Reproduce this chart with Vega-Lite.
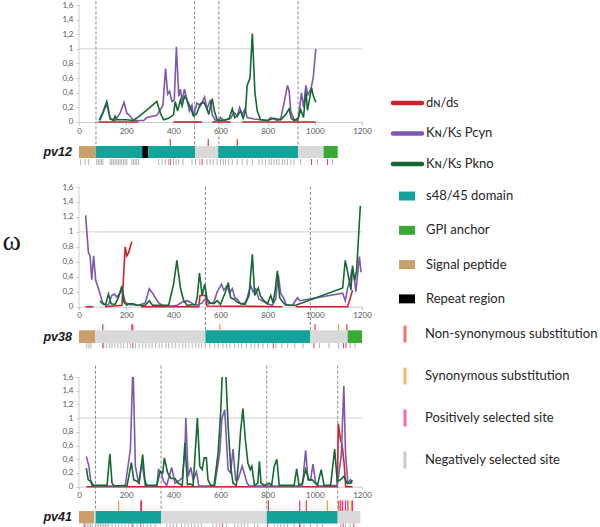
{
"$schema": "https://vega.github.io/schema/vega-lite/v6.json",
"background": "white",
"padding": {"left": 2, "top": 0, "right": 0, "bottom": 0},
"spacing": 18,
"config": {
  "view": {"stroke": null, "fill": "white"},
  "font": "Lato",
  "axis": {"labelFontSize": 8, "labelColor": "#595959", "tickColor": "#c8c8c8", "domainColor": "#c8c8c8", "tickSize": 3, "labelPadding": 2, "grid": false, "labelOverlap": false},
  "axisY": {"labelPadding": 3}
},
"datasets": {
  "lines": [
    {"gene":"pv12","cat":"dNdS","seg":1,"pos":82,"w":0},{"gene":"pv12","cat":"dNdS","seg":1,"pos":252,"w":0},
    {"gene":"pv12","cat":"dNdS","seg":2,"pos":401,"w":0},{"gene":"pv12","cat":"dNdS","seg":2,"pos":522,"w":0},
    {"gene":"pv12","cat":"dNdS","seg":3,"pos":565,"w":0},{"gene":"pv12","cat":"dNdS","seg":3,"pos":643,"w":0},
    {"gene":"pv12","cat":"dNdS","seg":4,"pos":692,"w":0},{"gene":"pv12","cat":"dNdS","seg":4,"pos":1004,"w":0},
    {"gene":"pv12","cat":"Pcyn","seg":1,"pos":89,"w":0.02},{"gene":"pv12","cat":"Pcyn","seg":1,"pos":111,"w":0.2},{"gene":"pv12","cat":"Pcyn","seg":1,"pos":120,"w":0.22},{"gene":"pv12","cat":"Pcyn","seg":1,"pos":132,"w":0.05},{"gene":"pv12","cat":"Pcyn","seg":1,"pos":153,"w":0.02},{"gene":"pv12","cat":"Pcyn","seg":1,"pos":174,"w":0.12},{"gene":"pv12","cat":"Pcyn","seg":1,"pos":191,"w":0.27},{"gene":"pv12","cat":"Pcyn","seg":1,"pos":203,"w":0.12},{"gene":"pv12","cat":"Pcyn","seg":1,"pos":217,"w":0.08},{"gene":"pv12","cat":"Pcyn","seg":1,"pos":231,"w":0.02},{"gene":"pv12","cat":"Pcyn","seg":1,"pos":274,"w":0.02},{"gene":"pv12","cat":"Pcyn","seg":1,"pos":288,"w":0.06},{"gene":"pv12","cat":"Pcyn","seg":1,"pos":330,"w":0.09},{"gene":"pv12","cat":"Pcyn","seg":1,"pos":345,"w":0.17},{"gene":"pv12","cat":"Pcyn","seg":1,"pos":356,"w":0.23},{"gene":"pv12","cat":"Pcyn","seg":1,"pos":367,"w":0.73},{"gene":"pv12","cat":"Pcyn","seg":1,"pos":376,"w":0.38},{"gene":"pv12","cat":"Pcyn","seg":1,"pos":384,"w":0.42},{"gene":"pv12","cat":"Pcyn","seg":1,"pos":394,"w":0.28},{"gene":"pv12","cat":"Pcyn","seg":1,"pos":404,"w":0.3},{"gene":"pv12","cat":"Pcyn","seg":1,"pos":413,"w":1.03},{"gene":"pv12","cat":"Pcyn","seg":1,"pos":423,"w":0.35},{"gene":"pv12","cat":"Pcyn","seg":1,"pos":430,"w":0.45},{"gene":"pv12","cat":"Pcyn","seg":1,"pos":437,"w":0.28},{"gene":"pv12","cat":"Pcyn","seg":1,"pos":447,"w":0.45},{"gene":"pv12","cat":"Pcyn","seg":1,"pos":458,"w":0.3},{"gene":"pv12","cat":"Pcyn","seg":1,"pos":468,"w":0.15},{"gene":"pv12","cat":"Pcyn","seg":1,"pos":479,"w":0.23},{"gene":"pv12","cat":"Pcyn","seg":1,"pos":486,"w":0.08},{"gene":"pv12","cat":"Pcyn","seg":1,"pos":500,"w":0.26},{"gene":"pv12","cat":"Pcyn","seg":1,"pos":515,"w":0.22},{"gene":"pv12","cat":"Pcyn","seg":1,"pos":532,"w":0.34},{"gene":"pv12","cat":"Pcyn","seg":1,"pos":543,"w":0.18},{"gene":"pv12","cat":"Pcyn","seg":1,"pos":557,"w":0.3},{"gene":"pv12","cat":"Pcyn","seg":1,"pos":565,"w":0.1},{"gene":"pv12","cat":"Pcyn","seg":1,"pos":579,"w":0.02},{"gene":"pv12","cat":"Pcyn","seg":1,"pos":593,"w":0.02},{"gene":"pv12","cat":"Pcyn","seg":1,"pos":600,"w":0.06},{"gene":"pv12","cat":"Pcyn","seg":1,"pos":614,"w":0.02},{"gene":"pv12","cat":"Pcyn","seg":1,"pos":643,"w":0.05},{"gene":"pv12","cat":"Pcyn","seg":1,"pos":657,"w":0.13},{"gene":"pv12","cat":"Pcyn","seg":1,"pos":671,"w":0.08},{"gene":"pv12","cat":"Pcyn","seg":1,"pos":681,"w":0.2},{"gene":"pv12","cat":"Pcyn","seg":1,"pos":692,"w":0.1},{"gene":"pv12","cat":"Pcyn","seg":1,"pos":704,"w":0.18},{"gene":"pv12","cat":"Pcyn","seg":1,"pos":713,"w":0.06},{"gene":"pv12","cat":"Pcyn","seg":1,"pos":728,"w":0.05},{"gene":"pv12","cat":"Pcyn","seg":1,"pos":742,"w":0.04},{"gene":"pv12","cat":"Pcyn","seg":1,"pos":770,"w":0.03},{"gene":"pv12","cat":"Pcyn","seg":1,"pos":799,"w":0.02},{"gene":"pv12","cat":"Pcyn","seg":1,"pos":813,"w":0.06},{"gene":"pv12","cat":"Pcyn","seg":1,"pos":827,"w":0.04},{"gene":"pv12","cat":"Pcyn","seg":1,"pos":841,"w":0.02},{"gene":"pv12","cat":"Pcyn","seg":1,"pos":855,"w":0.04},{"gene":"pv12","cat":"Pcyn","seg":1,"pos":869,"w":0.25},{"gene":"pv12","cat":"Pcyn","seg":1,"pos":884,"w":0.5},{"gene":"pv12","cat":"Pcyn","seg":1,"pos":891,"w":0.42},{"gene":"pv12","cat":"Pcyn","seg":1,"pos":898,"w":0.15},{"gene":"pv12","cat":"Pcyn","seg":1,"pos":912,"w":0.03},{"gene":"pv12","cat":"Pcyn","seg":1,"pos":929,"w":0.02},{"gene":"pv12","cat":"Pcyn","seg":1,"pos":943,"w":0.4},{"gene":"pv12","cat":"Pcyn","seg":1,"pos":952,"w":0.2},{"gene":"pv12","cat":"Pcyn","seg":1,"pos":962,"w":0.5},{"gene":"pv12","cat":"Pcyn","seg":1,"pos":971,"w":0.37},{"gene":"pv12","cat":"Pcyn","seg":1,"pos":983,"w":0.45},{"gene":"pv12","cat":"Pcyn","seg":1,"pos":993,"w":0.6},{"gene":"pv12","cat":"Pcyn","seg":1,"pos":1004,"w":1.0},
    {"gene":"pv12","cat":"Pkno","seg":1,"pos":86,"w":0.03},{"gene":"pv12","cat":"Pkno","seg":1,"pos":100,"w":0.12},{"gene":"pv12","cat":"Pkno","seg":1,"pos":118,"w":0.28},{"gene":"pv12","cat":"Pkno","seg":1,"pos":132,"w":0.04},{"gene":"pv12","cat":"Pkno","seg":1,"pos":146,"w":0.02},{"gene":"pv12","cat":"Pkno","seg":1,"pos":153,"w":0.08},{"gene":"pv12","cat":"Pkno","seg":1,"pos":160,"w":0.03},{"gene":"pv12","cat":"Pkno","seg":1,"pos":174,"w":0.03},{"gene":"pv12","cat":"Pkno","seg":1,"pos":200,"w":0.03},{"gene":"pv12","cat":"Pkno","seg":1,"pos":230,"w":0.02},{"gene":"pv12","cat":"Pkno","seg":1,"pos":252,"w":0.07},{"gene":"pv12","cat":"Pkno","seg":1,"pos":290,"w":0.17},{"gene":"pv12","cat":"Pkno","seg":1,"pos":330,"w":0.28},{"gene":"pv12","cat":"Pkno","seg":1,"pos":345,"w":0.12},{"gene":"pv12","cat":"Pkno","seg":1,"pos":359,"w":0.03},{"gene":"pv12","cat":"Pkno","seg":1,"pos":380,"w":0.05},{"gene":"pv12","cat":"Pkno","seg":1,"pos":401,"w":0.1},{"gene":"pv12","cat":"Pkno","seg":1,"pos":408,"w":0.28},{"gene":"pv12","cat":"Pkno","seg":1,"pos":418,"w":0.15},{"gene":"pv12","cat":"Pkno","seg":1,"pos":430,"w":0.3},{"gene":"pv12","cat":"Pkno","seg":1,"pos":437,"w":0.22},{"gene":"pv12","cat":"Pkno","seg":1,"pos":447,"w":0.35},{"gene":"pv12","cat":"Pkno","seg":1,"pos":458,"w":0.3},{"gene":"pv12","cat":"Pkno","seg":1,"pos":472,"w":0.2},{"gene":"pv12","cat":"Pkno","seg":1,"pos":486,"w":0.08},{"gene":"pv12","cat":"Pkno","seg":1,"pos":500,"w":0.12},{"gene":"pv12","cat":"Pkno","seg":1,"pos":515,"w":0.25},{"gene":"pv12","cat":"Pkno","seg":1,"pos":529,"w":0.27},{"gene":"pv12","cat":"Pkno","seg":1,"pos":543,"w":0.18},{"gene":"pv12","cat":"Pkno","seg":1,"pos":550,"w":0.1},{"gene":"pv12","cat":"Pkno","seg":1,"pos":565,"w":0.32},{"gene":"pv12","cat":"Pkno","seg":1,"pos":574,"w":0.15},{"gene":"pv12","cat":"Pkno","seg":1,"pos":586,"w":0.03},{"gene":"pv12","cat":"Pkno","seg":1,"pos":600,"w":0.02},{"gene":"pv12","cat":"Pkno","seg":1,"pos":620,"w":0.03},{"gene":"pv12","cat":"Pkno","seg":1,"pos":636,"w":0.04},{"gene":"pv12","cat":"Pkno","seg":1,"pos":650,"w":0.18},{"gene":"pv12","cat":"Pkno","seg":1,"pos":660,"w":0.06},{"gene":"pv12","cat":"Pkno","seg":1,"pos":671,"w":0.08},{"gene":"pv12","cat":"Pkno","seg":1,"pos":685,"w":0.15},{"gene":"pv12","cat":"Pkno","seg":1,"pos":696,"w":0.05},{"gene":"pv12","cat":"Pkno","seg":1,"pos":706,"w":0.15},{"gene":"pv12","cat":"Pkno","seg":1,"pos":713,"w":0.5},{"gene":"pv12","cat":"Pkno","seg":1,"pos":725,"w":0.6},{"gene":"pv12","cat":"Pkno","seg":1,"pos":735,"w":1.21},{"gene":"pv12","cat":"Pkno","seg":1,"pos":746,"w":0.4},{"gene":"pv12","cat":"Pkno","seg":1,"pos":756,"w":0.15},{"gene":"pv12","cat":"Pkno","seg":1,"pos":770,"w":0.03},{"gene":"pv12","cat":"Pkno","seg":1,"pos":799,"w":0.02},{"gene":"pv12","cat":"Pkno","seg":1,"pos":827,"w":0.05},{"gene":"pv12","cat":"Pkno","seg":1,"pos":855,"w":0.03},{"gene":"pv12","cat":"Pkno","seg":1,"pos":876,"w":0.1},{"gene":"pv12","cat":"Pkno","seg":1,"pos":891,"w":0.18},{"gene":"pv12","cat":"Pkno","seg":1,"pos":900,"w":0.05},{"gene":"pv12","cat":"Pkno","seg":1,"pos":912,"w":0.02},{"gene":"pv12","cat":"Pkno","seg":1,"pos":929,"w":0.05},{"gene":"pv12","cat":"Pkno","seg":1,"pos":940,"w":0.17},{"gene":"pv12","cat":"Pkno","seg":1,"pos":952,"w":0.06},{"gene":"pv12","cat":"Pkno","seg":1,"pos":962,"w":0.42},{"gene":"pv12","cat":"Pkno","seg":1,"pos":969,"w":0.16},{"gene":"pv12","cat":"Pkno","seg":1,"pos":986,"w":0.47},{"gene":"pv12","cat":"Pkno","seg":1,"pos":994,"w":0.35},{"gene":"pv12","cat":"Pkno","seg":1,"pos":1004,"w":0.27},

    {"gene":"pv38","cat":"dNdS","seg":1,"pos":28,"w":0},{"gene":"pv38","cat":"dNdS","seg":1,"pos":61,"w":0},
    {"gene":"pv38","cat":"dNdS","seg":2,"pos":110,"w":0},{"gene":"pv38","cat":"dNdS","seg":2,"pos":182,"w":0.02},{"gene":"pv38","cat":"dNdS","seg":2,"pos":196,"w":0.8},{"gene":"pv38","cat":"dNdS","seg":2,"pos":203,"w":0.68},{"gene":"pv38","cat":"dNdS","seg":2,"pos":210,"w":0.72},{"gene":"pv38","cat":"dNdS","seg":2,"pos":224,"w":0.87},
    {"gene":"pv38","cat":"dNdS","seg":3,"pos":262,"w":0},{"gene":"pv38","cat":"dNdS","seg":3,"pos":508,"w":0},{"gene":"pv38","cat":"dNdS","seg":3,"pos":513,"w":0.15},{"gene":"pv38","cat":"dNdS","seg":3,"pos":536,"w":0.15},{"gene":"pv38","cat":"dNdS","seg":3,"pos":543,"w":0.01},{"gene":"pv38","cat":"dNdS","seg":3,"pos":862,"w":0},
    {"gene":"pv38","cat":"dNdS","seg":4,"pos":919,"w":0},{"gene":"pv38","cat":"dNdS","seg":4,"pos":1139,"w":0},{"gene":"pv38","cat":"dNdS","seg":4,"pos":1160,"w":0.22},
    {"gene":"pv38","cat":"Pcyn","seg":1,"pos":28,"w":1.22},{"gene":"pv38","cat":"Pcyn","seg":1,"pos":40,"w":0.72},{"gene":"pv38","cat":"Pcyn","seg":1,"pos":47,"w":0.68},{"gene":"pv38","cat":"Pcyn","seg":1,"pos":54,"w":0.36},{"gene":"pv38","cat":"Pcyn","seg":1,"pos":62,"w":0.68},{"gene":"pv38","cat":"Pcyn","seg":1,"pos":71,"w":0.35},{"gene":"pv38","cat":"Pcyn","seg":1,"pos":82,"w":0.25},{"gene":"pv38","cat":"Pcyn","seg":1,"pos":96,"w":0.1},{"gene":"pv38","cat":"Pcyn","seg":1,"pos":104,"w":0.03},{"gene":"pv38","cat":"Pcyn","seg":1,"pos":118,"w":0.02},{"gene":"pv38","cat":"Pcyn","seg":1,"pos":125,"w":0.03},{"gene":"pv38","cat":"Pcyn","seg":1,"pos":139,"w":0.15},{"gene":"pv38","cat":"Pcyn","seg":1,"pos":150,"w":0.17},{"gene":"pv38","cat":"Pcyn","seg":1,"pos":160,"w":0.13},{"gene":"pv38","cat":"Pcyn","seg":1,"pos":174,"w":0.18},{"gene":"pv38","cat":"Pcyn","seg":1,"pos":184,"w":0.22},{"gene":"pv38","cat":"Pcyn","seg":1,"pos":196,"w":0.06},{"gene":"pv38","cat":"Pcyn","seg":1,"pos":210,"w":0.03},{"gene":"pv38","cat":"Pcyn","seg":1,"pos":252,"w":0.02},{"gene":"pv38","cat":"Pcyn","seg":1,"pos":281,"w":0.05},{"gene":"pv38","cat":"Pcyn","seg":1,"pos":298,"w":0.24},{"gene":"pv38","cat":"Pcyn","seg":1,"pos":312,"w":0.18},{"gene":"pv38","cat":"Pcyn","seg":1,"pos":323,"w":0.12},{"gene":"pv38","cat":"Pcyn","seg":1,"pos":338,"w":0.05},{"gene":"pv38","cat":"Pcyn","seg":1,"pos":352,"w":0.02},{"gene":"pv38","cat":"Pcyn","seg":1,"pos":394,"w":0.01},{"gene":"pv38","cat":"Pcyn","seg":1,"pos":416,"w":0.02},{"gene":"pv38","cat":"Pcyn","seg":1,"pos":437,"w":0.06},{"gene":"pv38","cat":"Pcyn","seg":1,"pos":458,"w":0.08},{"gene":"pv38","cat":"Pcyn","seg":1,"pos":472,"w":0.06},{"gene":"pv38","cat":"Pcyn","seg":1,"pos":487,"w":0.03},{"gene":"pv38","cat":"Pcyn","seg":1,"pos":501,"w":0.02},{"gene":"pv38","cat":"Pcyn","seg":1,"pos":522,"w":0.05},{"gene":"pv38","cat":"Pcyn","seg":1,"pos":539,"w":0.12},{"gene":"pv38","cat":"Pcyn","seg":1,"pos":550,"w":0.04},{"gene":"pv38","cat":"Pcyn","seg":1,"pos":572,"w":0.06},{"gene":"pv38","cat":"Pcyn","seg":1,"pos":586,"w":0.2},{"gene":"pv38","cat":"Pcyn","seg":1,"pos":604,"w":0.3},{"gene":"pv38","cat":"Pcyn","seg":1,"pos":614,"w":0.22},{"gene":"pv38","cat":"Pcyn","seg":1,"pos":628,"w":0.28},{"gene":"pv38","cat":"Pcyn","seg":1,"pos":638,"w":0.18},{"gene":"pv38","cat":"Pcyn","seg":1,"pos":650,"w":0.24},{"gene":"pv38","cat":"Pcyn","seg":1,"pos":661,"w":0.12},{"gene":"pv38","cat":"Pcyn","seg":1,"pos":671,"w":0.1},{"gene":"pv38","cat":"Pcyn","seg":1,"pos":685,"w":0.04},{"gene":"pv38","cat":"Pcyn","seg":1,"pos":704,"w":0.05},{"gene":"pv38","cat":"Pcyn","seg":1,"pos":713,"w":0.12},{"gene":"pv38","cat":"Pcyn","seg":1,"pos":728,"w":0.28},{"gene":"pv38","cat":"Pcyn","seg":1,"pos":738,"w":0.2},{"gene":"pv38","cat":"Pcyn","seg":1,"pos":749,"w":0.24},{"gene":"pv38","cat":"Pcyn","seg":1,"pos":763,"w":0.1},{"gene":"pv38","cat":"Pcyn","seg":1,"pos":777,"w":0.08},{"gene":"pv38","cat":"Pcyn","seg":1,"pos":799,"w":0.04},{"gene":"pv38","cat":"Pcyn","seg":1,"pos":820,"w":0.02},{"gene":"pv38","cat":"Pcyn","seg":1,"pos":834,"w":0.1},{"gene":"pv38","cat":"Pcyn","seg":1,"pos":845,"w":0.43},{"gene":"pv38","cat":"Pcyn","seg":1,"pos":855,"w":0.18},{"gene":"pv38","cat":"Pcyn","seg":1,"pos":870,"w":0.1},{"gene":"pv38","cat":"Pcyn","seg":1,"pos":879,"w":0.02},{"gene":"pv38","cat":"Pcyn","seg":1,"pos":905,"w":0.02},{"gene":"pv38","cat":"Pcyn","seg":1,"pos":926,"w":0.12},{"gene":"pv38","cat":"Pcyn","seg":1,"pos":936,"w":0.08},{"gene":"pv38","cat":"Pcyn","seg":1,"pos":1118,"w":0.18},{"gene":"pv38","cat":"Pcyn","seg":1,"pos":1129,"w":0.08},{"gene":"pv38","cat":"Pcyn","seg":1,"pos":1139,"w":0.25},{"gene":"pv38","cat":"Pcyn","seg":1,"pos":1149,"w":0.35},{"gene":"pv38","cat":"Pcyn","seg":1,"pos":1157,"w":0.5},{"gene":"pv38","cat":"Pcyn","seg":1,"pos":1167,"w":0.38},{"gene":"pv38","cat":"Pcyn","seg":1,"pos":1174,"w":0.2},{"gene":"pv38","cat":"Pcyn","seg":1,"pos":1182,"w":0.45},{"gene":"pv38","cat":"Pcyn","seg":1,"pos":1189,"w":0.67},{"gene":"pv38","cat":"Pcyn","seg":1,"pos":1196,"w":0.46},
    {"gene":"pv38","cat":"Pkno","seg":1,"pos":89,"w":0.08},{"gene":"pv38","cat":"Pkno","seg":1,"pos":100,"w":0.04},{"gene":"pv38","cat":"Pkno","seg":1,"pos":113,"w":0.03},{"gene":"pv38","cat":"Pkno","seg":1,"pos":125,"w":0.17},{"gene":"pv38","cat":"Pkno","seg":1,"pos":136,"w":0.04},{"gene":"pv38","cat":"Pkno","seg":1,"pos":153,"w":0.03},{"gene":"pv38","cat":"Pkno","seg":1,"pos":167,"w":0.12},{"gene":"pv38","cat":"Pkno","seg":1,"pos":182,"w":0.28},{"gene":"pv38","cat":"Pkno","seg":1,"pos":190,"w":0.06},{"gene":"pv38","cat":"Pkno","seg":1,"pos":203,"w":0.02},{"gene":"pv38","cat":"Pkno","seg":1,"pos":210,"w":0.04},{"gene":"pv38","cat":"Pkno","seg":1,"pos":231,"w":0.04},{"gene":"pv38","cat":"Pkno","seg":1,"pos":245,"w":0.02},{"gene":"pv38","cat":"Pkno","seg":1,"pos":281,"w":0.02},{"gene":"pv38","cat":"Pkno","seg":1,"pos":298,"w":0.08},{"gene":"pv38","cat":"Pkno","seg":1,"pos":312,"w":0.02},{"gene":"pv38","cat":"Pkno","seg":1,"pos":352,"w":0.02},{"gene":"pv38","cat":"Pkno","seg":1,"pos":380,"w":0.02},{"gene":"pv38","cat":"Pkno","seg":1,"pos":401,"w":0.3},{"gene":"pv38","cat":"Pkno","seg":1,"pos":415,"w":0.62},{"gene":"pv38","cat":"Pkno","seg":1,"pos":430,"w":0.25},{"gene":"pv38","cat":"Pkno","seg":1,"pos":444,"w":0.08},{"gene":"pv38","cat":"Pkno","seg":1,"pos":458,"w":0.02},{"gene":"pv38","cat":"Pkno","seg":1,"pos":494,"w":0.03},{"gene":"pv38","cat":"Pkno","seg":1,"pos":501,"w":0.12},{"gene":"pv38","cat":"Pkno","seg":1,"pos":511,"w":0.45},{"gene":"pv38","cat":"Pkno","seg":1,"pos":522,"w":0.15},{"gene":"pv38","cat":"Pkno","seg":1,"pos":533,"w":0.3},{"gene":"pv38","cat":"Pkno","seg":1,"pos":543,"w":0.1},{"gene":"pv38","cat":"Pkno","seg":1,"pos":557,"w":0.05},{"gene":"pv38","cat":"Pkno","seg":1,"pos":572,"w":0.04},{"gene":"pv38","cat":"Pkno","seg":1,"pos":586,"w":0.08},{"gene":"pv38","cat":"Pkno","seg":1,"pos":600,"w":0.03},{"gene":"pv38","cat":"Pkno","seg":1,"pos":621,"w":0.2},{"gene":"pv38","cat":"Pkno","seg":1,"pos":633,"w":0.32},{"gene":"pv38","cat":"Pkno","seg":1,"pos":643,"w":0.12},{"gene":"pv38","cat":"Pkno","seg":1,"pos":657,"w":0.1},{"gene":"pv38","cat":"Pkno","seg":1,"pos":671,"w":0.06},{"gene":"pv38","cat":"Pkno","seg":1,"pos":685,"w":0.04},{"gene":"pv38","cat":"Pkno","seg":1,"pos":704,"w":0.03},{"gene":"pv38","cat":"Pkno","seg":1,"pos":721,"w":0.15},{"gene":"pv38","cat":"Pkno","seg":1,"pos":735,"w":0.7},{"gene":"pv38","cat":"Pkno","seg":1,"pos":745,"w":0.15},{"gene":"pv38","cat":"Pkno","seg":1,"pos":760,"w":0.25},{"gene":"pv38","cat":"Pkno","seg":1,"pos":770,"w":0.14},{"gene":"pv38","cat":"Pkno","seg":1,"pos":784,"w":0.08},{"gene":"pv38","cat":"Pkno","seg":1,"pos":799,"w":0.04},{"gene":"pv38","cat":"Pkno","seg":1,"pos":813,"w":0.15},{"gene":"pv38","cat":"Pkno","seg":1,"pos":823,"w":0.05},{"gene":"pv38","cat":"Pkno","seg":1,"pos":831,"w":0.2},{"gene":"pv38","cat":"Pkno","seg":1,"pos":841,"w":0.48},{"gene":"pv38","cat":"Pkno","seg":1,"pos":851,"w":0.12},{"gene":"pv38","cat":"Pkno","seg":1,"pos":862,"w":0.07},{"gene":"pv38","cat":"Pkno","seg":1,"pos":874,"w":0.03},{"gene":"pv38","cat":"Pkno","seg":1,"pos":891,"w":0.02},{"gene":"pv38","cat":"Pkno","seg":1,"pos":919,"w":0.02},{"gene":"pv38","cat":"Pkno","seg":1,"pos":1118,"w":0.25},{"gene":"pv38","cat":"Pkno","seg":1,"pos":1129,"w":0.62},{"gene":"pv38","cat":"Pkno","seg":1,"pos":1143,"w":0.4},{"gene":"pv38","cat":"Pkno","seg":1,"pos":1153,"w":0.22},{"gene":"pv38","cat":"Pkno","seg":1,"pos":1160,"w":0.55},{"gene":"pv38","cat":"Pkno","seg":1,"pos":1169,"w":0.35},{"gene":"pv38","cat":"Pkno","seg":1,"pos":1177,"w":0.48},{"gene":"pv38","cat":"Pkno","seg":1,"pos":1193,"w":1.35},

    {"gene":"pv41","cat":"dNdS","seg":1,"pos":31,"w":0},{"gene":"pv41","cat":"dNdS","seg":1,"pos":1095,"w":0},{"gene":"pv41","cat":"dNdS","seg":1,"pos":1100,"w":0.92},{"gene":"pv41","cat":"dNdS","seg":1,"pos":1108,"w":0.7},{"gene":"pv41","cat":"dNdS","seg":1,"pos":1116,"w":0.6},{"gene":"pv41","cat":"dNdS","seg":1,"pos":1124,"w":0.35},{"gene":"pv41","cat":"dNdS","seg":1,"pos":1131,"w":0},{"gene":"pv41","cat":"dNdS","seg":1,"pos":1160,"w":0},
    {"gene":"pv41","cat":"Pcyn","seg":1,"pos":31,"w":0.44},{"gene":"pv41","cat":"Pcyn","seg":1,"pos":42,"w":0.3},{"gene":"pv41","cat":"Pcyn","seg":1,"pos":49,"w":0.1},{"gene":"pv41","cat":"Pcyn","seg":1,"pos":56,"w":0.05},{"gene":"pv41","cat":"Pcyn","seg":1,"pos":63,"w":0.01},{"gene":"pv41","cat":"Pcyn","seg":1,"pos":196,"w":0.01},{"gene":"pv41","cat":"Pcyn","seg":1,"pos":218,"w":0.55},{"gene":"pv41","cat":"Pcyn","seg":1,"pos":229,"w":1.8},{"gene":"pv41","cat":"Pcyn","seg":1,"pos":239,"w":0.3},{"gene":"pv41","cat":"Pcyn","seg":1,"pos":253,"w":0.05},{"gene":"pv41","cat":"Pcyn","seg":1,"pos":267,"w":0.35},{"gene":"pv41","cat":"Pcyn","seg":1,"pos":278,"w":0.1},{"gene":"pv41","cat":"Pcyn","seg":1,"pos":290,"w":0.01},{"gene":"pv41","cat":"Pcyn","seg":1,"pos":330,"w":0.01},{"gene":"pv41","cat":"Pcyn","seg":1,"pos":337,"w":0.25},{"gene":"pv41","cat":"Pcyn","seg":1,"pos":348,"w":0.22},{"gene":"pv41","cat":"Pcyn","seg":1,"pos":358,"w":0.08},{"gene":"pv41","cat":"Pcyn","seg":1,"pos":372,"w":0.02},{"gene":"pv41","cat":"Pcyn","seg":1,"pos":393,"w":0.28},{"gene":"pv41","cat":"Pcyn","seg":1,"pos":407,"w":0.05},{"gene":"pv41","cat":"Pcyn","seg":1,"pos":428,"w":0.1},{"gene":"pv41","cat":"Pcyn","seg":1,"pos":438,"w":0.13},{"gene":"pv41","cat":"Pcyn","seg":1,"pos":449,"w":0.5},{"gene":"pv41","cat":"Pcyn","seg":1,"pos":453,"w":1.0},{"gene":"pv41","cat":"Pcyn","seg":1,"pos":463,"w":0.15},{"gene":"pv41","cat":"Pcyn","seg":1,"pos":474,"w":0.28},{"gene":"pv41","cat":"Pcyn","seg":1,"pos":484,"w":0.1},{"gene":"pv41","cat":"Pcyn","seg":1,"pos":498,"w":0.22},{"gene":"pv41","cat":"Pcyn","seg":1,"pos":508,"w":0.01},{"gene":"pv41","cat":"Pcyn","seg":1,"pos":575,"w":0.01},{"gene":"pv41","cat":"Pcyn","seg":1,"pos":597,"w":0.5},{"gene":"pv41","cat":"Pcyn","seg":1,"pos":606,"w":1.0},{"gene":"pv41","cat":"Pcyn","seg":1,"pos":618,"w":1.12},{"gene":"pv41","cat":"Pcyn","seg":1,"pos":632,"w":0.25},{"gene":"pv41","cat":"Pcyn","seg":1,"pos":643,"w":0.2},{"gene":"pv41","cat":"Pcyn","seg":1,"pos":653,"w":0.55},{"gene":"pv41","cat":"Pcyn","seg":1,"pos":664,"w":0.1},{"gene":"pv41","cat":"Pcyn","seg":1,"pos":674,"w":0.1},{"gene":"pv41","cat":"Pcyn","seg":1,"pos":692,"w":0.3},{"gene":"pv41","cat":"Pcyn","seg":1,"pos":702,"w":0.18},{"gene":"pv41","cat":"Pcyn","seg":1,"pos":713,"w":0.05},{"gene":"pv41","cat":"Pcyn","seg":1,"pos":723,"w":0.01},{"gene":"pv41","cat":"Pcyn","seg":1,"pos":947,"w":0.01},{"gene":"pv41","cat":"Pcyn","seg":1,"pos":961,"w":0.53},{"gene":"pv41","cat":"Pcyn","seg":1,"pos":971,"w":0.1},{"gene":"pv41","cat":"Pcyn","seg":1,"pos":982,"w":0.1},{"gene":"pv41","cat":"Pcyn","seg":1,"pos":992,"w":0.33},{"gene":"pv41","cat":"Pcyn","seg":1,"pos":1004,"w":0.05},{"gene":"pv41","cat":"Pcyn","seg":1,"pos":1018,"w":0.01},{"gene":"pv41","cat":"Pcyn","seg":1,"pos":1095,"w":0.02},{"gene":"pv41","cat":"Pcyn","seg":1,"pos":1106,"w":0.3},{"gene":"pv41","cat":"Pcyn","seg":1,"pos":1112,"w":0.45},{"gene":"pv41","cat":"Pcyn","seg":1,"pos":1123,"w":1.47},{"gene":"pv41","cat":"Pcyn","seg":1,"pos":1130,"w":0.5},{"gene":"pv41","cat":"Pcyn","seg":1,"pos":1140,"w":0.05},{"gene":"pv41","cat":"Pcyn","seg":1,"pos":1151,"w":0.1},{"gene":"pv41","cat":"Pcyn","seg":1,"pos":1158,"w":0.05},
    {"gene":"pv41","cat":"Pkno","seg":1,"pos":31,"w":0.27},{"gene":"pv41","cat":"Pkno","seg":1,"pos":39,"w":0.1},{"gene":"pv41","cat":"Pkno","seg":1,"pos":49,"w":0.08},{"gene":"pv41","cat":"Pkno","seg":1,"pos":56,"w":0.02},{"gene":"pv41","cat":"Pkno","seg":1,"pos":119,"w":0.02},{"gene":"pv41","cat":"Pkno","seg":1,"pos":131,"w":0.48},{"gene":"pv41","cat":"Pkno","seg":1,"pos":140,"w":0.05},{"gene":"pv41","cat":"Pkno","seg":1,"pos":150,"w":0.01},{"gene":"pv41","cat":"Pkno","seg":1,"pos":204,"w":0.02},{"gene":"pv41","cat":"Pkno","seg":1,"pos":222,"w":0.35},{"gene":"pv41","cat":"Pkno","seg":1,"pos":232,"w":0.1},{"gene":"pv41","cat":"Pkno","seg":1,"pos":246,"w":0.08},{"gene":"pv41","cat":"Pkno","seg":1,"pos":255,"w":0.05},{"gene":"pv41","cat":"Pkno","seg":1,"pos":270,"w":0.47},{"gene":"pv41","cat":"Pkno","seg":1,"pos":281,"w":0.02},{"gene":"pv41","cat":"Pkno","seg":1,"pos":330,"w":0.02},{"gene":"pv41","cat":"Pkno","seg":1,"pos":344,"w":0.22},{"gene":"pv41","cat":"Pkno","seg":1,"pos":355,"w":0.2},{"gene":"pv41","cat":"Pkno","seg":1,"pos":362,"w":0.42},{"gene":"pv41","cat":"Pkno","seg":1,"pos":376,"w":0.2},{"gene":"pv41","cat":"Pkno","seg":1,"pos":390,"w":0.12},{"gene":"pv41","cat":"Pkno","seg":1,"pos":407,"w":0.12},{"gene":"pv41","cat":"Pkno","seg":1,"pos":421,"w":0.05},{"gene":"pv41","cat":"Pkno","seg":1,"pos":438,"w":0.02},{"gene":"pv41","cat":"Pkno","seg":1,"pos":449,"w":0.64},{"gene":"pv41","cat":"Pkno","seg":1,"pos":460,"w":0.03},{"gene":"pv41","cat":"Pkno","seg":1,"pos":470,"w":0.04},{"gene":"pv41","cat":"Pkno","seg":1,"pos":484,"w":0.02},{"gene":"pv41","cat":"Pkno","seg":1,"pos":502,"w":1.0},{"gene":"pv41","cat":"Pkno","seg":1,"pos":512,"w":0.3},{"gene":"pv41","cat":"Pkno","seg":1,"pos":522,"w":0.25},{"gene":"pv41","cat":"Pkno","seg":1,"pos":531,"w":0.42},{"gene":"pv41","cat":"Pkno","seg":1,"pos":540,"w":0.42},{"gene":"pv41","cat":"Pkno","seg":1,"pos":547,"w":0.1},{"gene":"pv41","cat":"Pkno","seg":1,"pos":559,"w":0.02},{"gene":"pv41","cat":"Pkno","seg":1,"pos":573,"w":0.02},{"gene":"pv41","cat":"Pkno","seg":1,"pos":590,"w":0.5},{"gene":"pv41","cat":"Pkno","seg":1,"pos":601,"w":1.1},{"gene":"pv41","cat":"Pkno","seg":1,"pos":608,"w":1.7},{"gene":"pv41","cat":"Pkno","seg":1,"pos":622,"w":1.7},{"gene":"pv41","cat":"Pkno","seg":1,"pos":632,"w":0.9},{"gene":"pv41","cat":"Pkno","seg":1,"pos":643,"w":0.3},{"gene":"pv41","cat":"Pkno","seg":1,"pos":653,"w":0.05},{"gene":"pv41","cat":"Pkno","seg":1,"pos":667,"w":0.02},{"gene":"pv41","cat":"Pkno","seg":1,"pos":676,"w":0.35},{"gene":"pv41","cat":"Pkno","seg":1,"pos":685,"w":0.8},{"gene":"pv41","cat":"Pkno","seg":1,"pos":695,"w":1.14},{"gene":"pv41","cat":"Pkno","seg":1,"pos":705,"w":0.7},{"gene":"pv41","cat":"Pkno","seg":1,"pos":716,"w":0.35},{"gene":"pv41","cat":"Pkno","seg":1,"pos":726,"w":0.25},{"gene":"pv41","cat":"Pkno","seg":1,"pos":733,"w":0.3},{"gene":"pv41","cat":"Pkno","seg":1,"pos":744,"w":0.02},{"gene":"pv41","cat":"Pkno","seg":1,"pos":758,"w":0.05},{"gene":"pv41","cat":"Pkno","seg":1,"pos":765,"w":0.37},{"gene":"pv41","cat":"Pkno","seg":1,"pos":772,"w":0.05},{"gene":"pv41","cat":"Pkno","seg":1,"pos":786,"w":0.02},{"gene":"pv41","cat":"Pkno","seg":1,"pos":807,"w":0.05},{"gene":"pv41","cat":"Pkno","seg":1,"pos":817,"w":0.02},{"gene":"pv41","cat":"Pkno","seg":1,"pos":828,"w":0.3},{"gene":"pv41","cat":"Pkno","seg":1,"pos":839,"w":0.4},{"gene":"pv41","cat":"Pkno","seg":1,"pos":849,"w":0.02},{"gene":"pv41","cat":"Pkno","seg":1,"pos":912,"w":0.02},{"gene":"pv41","cat":"Pkno","seg":1,"pos":923,"w":0.26},{"gene":"pv41","cat":"Pkno","seg":1,"pos":933,"w":0.02},{"gene":"pv41","cat":"Pkno","seg":1,"pos":947,"w":0.05},{"gene":"pv41","cat":"Pkno","seg":1,"pos":961,"w":0.25},{"gene":"pv41","cat":"Pkno","seg":1,"pos":975,"w":0.1},{"gene":"pv41","cat":"Pkno","seg":1,"pos":989,"w":0.1},{"gene":"pv41","cat":"Pkno","seg":1,"pos":1011,"w":0.02},{"gene":"pv41","cat":"Pkno","seg":1,"pos":1027,"w":0.25},{"gene":"pv41","cat":"Pkno","seg":1,"pos":1039,"w":0.02},{"gene":"pv41","cat":"Pkno","seg":1,"pos":1067,"w":0.02},{"gene":"pv41","cat":"Pkno","seg":1,"pos":1084,"w":0.55},{"gene":"pv41","cat":"Pkno","seg":1,"pos":1095,"w":0.08},{"gene":"pv41","cat":"Pkno","seg":1,"pos":1109,"w":0.1},{"gene":"pv41","cat":"Pkno","seg":1,"pos":1123,"w":0.15},{"gene":"pv41","cat":"Pkno","seg":1,"pos":1137,"w":0.05},{"gene":"pv41","cat":"Pkno","seg":1,"pos":1151,"w":0.05},{"gene":"pv41","cat":"Pkno","seg":1,"pos":1159,"w":0.1}
  ],
  "domains": [
    {"gene":"pv12","cat":"SP","start":0,"end":71},{"gene":"pv12","cat":"s48","start":71,"end":268},{"gene":"pv12","cat":"Rep","start":268,"end":293},{"gene":"pv12","cat":"s48","start":293,"end":492},{"gene":"pv12","cat":"Oth","start":492,"end":590},{"gene":"pv12","cat":"s48","start":590,"end":929},{"gene":"pv12","cat":"Oth","start":929,"end":1037},{"gene":"pv12","cat":"GPI","start":1037,"end":1097},
    {"gene":"pv38","cat":"SP","start":0,"end":68},{"gene":"pv38","cat":"Oth","start":68,"end":536},{"gene":"pv38","cat":"s48","start":536,"end":981},{"gene":"pv38","cat":"Oth","start":981,"end":1139},{"gene":"pv38","cat":"GPI","start":1139,"end":1200},
    {"gene":"pv41","cat":"SP","start":0,"end":65},{"gene":"pv41","cat":"s48","start":70,"end":348},{"gene":"pv41","cat":"Oth","start":348,"end":796},{"gene":"pv41","cat":"s48","start":796,"end":1097},{"gene":"pv41","cat":"Oth","start":1097,"end":1193}
  ],
  "borders": [
    {"gene":"pv12","pos":72},{"gene":"pv12","pos":490},{"gene":"pv12","pos":593},{"gene":"pv12","pos":929},
    {"gene":"pv38","pos":536},{"gene":"pv38","pos":981},
    {"gene":"pv41","pos":70},{"gene":"pv41","pos":348},{"gene":"pv41","pos":796},{"gene":"pv41","pos":1097}
  ],
  "sites": [
    {"gene":"pv12","side":"a","cat":"NS","pos":387},{"gene":"pv12","side":"a","cat":"NS","pos":548},{"gene":"pv12","side":"a","cat":"NS","pos":671},
    {"gene":"pv12","side":"b","cat":"Neg","pos":7},{"gene":"pv12","side":"b","cat":"Neg","pos":26},{"gene":"pv12","side":"b","cat":"Neg","pos":40},{"gene":"pv12","side":"b","cat":"Neg","pos":75},{"gene":"pv12","side":"b","cat":"Neg","pos":82},{"gene":"pv12","side":"b","cat":"Neg","pos":89},{"gene":"pv12","side":"b","cat":"Neg","pos":95},{"gene":"pv12","side":"b","cat":"Neg","pos":101},{"gene":"pv12","side":"b","cat":"Neg","pos":132},{"gene":"pv12","side":"b","cat":"Neg","pos":139},{"gene":"pv12","side":"b","cat":"Neg","pos":146},{"gene":"pv12","side":"b","cat":"Neg","pos":153},{"gene":"pv12","side":"b","cat":"Neg","pos":160},{"gene":"pv12","side":"b","cat":"Neg","pos":167},{"gene":"pv12","side":"b","cat":"Neg","pos":174},{"gene":"pv12","side":"b","cat":"Neg","pos":181},{"gene":"pv12","side":"b","cat":"Neg","pos":189},{"gene":"pv12","side":"b","cat":"Neg","pos":196},{"gene":"pv12","side":"b","cat":"Neg","pos":203},{"gene":"pv12","side":"b","cat":"Neg","pos":224},{"gene":"pv12","side":"b","cat":"Neg","pos":231},{"gene":"pv12","side":"b","cat":"Neg","pos":238},{"gene":"pv12","side":"b","cat":"Neg","pos":245},{"gene":"pv12","side":"b","cat":"Neg","pos":253},{"gene":"pv12","side":"b","cat":"Neg","pos":338},{"gene":"pv12","side":"b","cat":"Neg","pos":352},{"gene":"pv12","side":"b","cat":"Neg","pos":366},{"gene":"pv12","side":"b","cat":"Neg","pos":380},{"gene":"pv12","side":"b","cat":"Neg","pos":401},{"gene":"pv12","side":"b","cat":"Neg","pos":412},{"gene":"pv12","side":"b","cat":"Neg","pos":423},{"gene":"pv12","side":"b","cat":"Neg","pos":441},{"gene":"pv12","side":"b","cat":"Neg","pos":479},{"gene":"pv12","side":"b","cat":"Neg","pos":494},{"gene":"pv12","side":"b","cat":"Neg","pos":512},{"gene":"pv12","side":"b","cat":"Neg","pos":543},{"gene":"pv12","side":"b","cat":"Neg","pos":556},{"gene":"pv12","side":"b","cat":"Neg","pos":569},{"gene":"pv12","side":"b","cat":"Neg","pos":586},{"gene":"pv12","side":"b","cat":"Neg","pos":600},{"gene":"pv12","side":"b","cat":"Neg","pos":612},{"gene":"pv12","side":"b","cat":"Neg","pos":621},{"gene":"pv12","side":"b","cat":"Neg","pos":635},{"gene":"pv12","side":"b","cat":"Neg","pos":650},{"gene":"pv12","side":"b","cat":"Neg","pos":671},{"gene":"pv12","side":"b","cat":"Neg","pos":692},{"gene":"pv12","side":"b","cat":"Neg","pos":713},{"gene":"pv12","side":"b","cat":"Neg","pos":735},{"gene":"pv12","side":"b","cat":"Neg","pos":763},{"gene":"pv12","side":"b","cat":"Neg","pos":777},{"gene":"pv12","side":"b","cat":"Neg","pos":791},{"gene":"pv12","side":"b","cat":"Neg","pos":806},{"gene":"pv12","side":"b","cat":"Neg","pos":815},{"gene":"pv12","side":"b","cat":"Neg","pos":827},{"gene":"pv12","side":"b","cat":"Neg","pos":838},{"gene":"pv12","side":"b","cat":"Neg","pos":848},{"gene":"pv12","side":"b","cat":"Neg","pos":862},{"gene":"pv12","side":"b","cat":"Neg","pos":873},{"gene":"pv12","side":"b","cat":"Neg","pos":884},{"gene":"pv12","side":"b","cat":"Neg","pos":898},{"gene":"pv12","side":"b","cat":"Neg","pos":912},{"gene":"pv12","side":"b","cat":"Neg","pos":940},{"gene":"pv12","side":"b","cat":"Neg","pos":1011},{"gene":"pv12","side":"b","cat":"Neg","pos":1075},
    {"gene":"pv12","side":"b","cat":"Pos","pos":387},{"gene":"pv12","side":"b","cat":"Pos","pos":522},{"gene":"pv12","side":"b","cat":"Pos","pos":986},{"gene":"pv12","side":"b","cat":"Pos","pos":1054},

    {"gene":"pv38","side":"a","cat":"NS","pos":101},{"gene":"pv38","side":"a","cat":"Pos","pos":224},{"gene":"pv38","side":"a","cat":"Pos","pos":228},{"gene":"pv38","side":"a","cat":"Syn","pos":597},{"gene":"pv38","side":"a","cat":"NS","pos":1001},{"gene":"pv38","side":"a","cat":"Syn","pos":1101},{"gene":"pv38","side":"a","cat":"NS","pos":1136},
    {"gene":"pv38","side":"b","cat":"Neg","pos":33},{"gene":"pv38","side":"b","cat":"Neg","pos":42},{"gene":"pv38","side":"b","cat":"Neg","pos":51},{"gene":"pv38","side":"b","cat":"Neg","pos":105},{"gene":"pv38","side":"b","cat":"Neg","pos":118},{"gene":"pv38","side":"b","cat":"Neg","pos":130},{"gene":"pv38","side":"b","cat":"Neg","pos":140},{"gene":"pv38","side":"b","cat":"Neg","pos":152},{"gene":"pv38","side":"b","cat":"Neg","pos":165},{"gene":"pv38","side":"b","cat":"Neg","pos":178},{"gene":"pv38","side":"b","cat":"Neg","pos":190},{"gene":"pv38","side":"b","cat":"Neg","pos":205},{"gene":"pv38","side":"b","cat":"Neg","pos":218},{"gene":"pv38","side":"b","cat":"Neg","pos":240},{"gene":"pv38","side":"b","cat":"Neg","pos":255},{"gene":"pv38","side":"b","cat":"Neg","pos":270},{"gene":"pv38","side":"b","cat":"Neg","pos":283},{"gene":"pv38","side":"b","cat":"Neg","pos":297},{"gene":"pv38","side":"b","cat":"Neg","pos":310},{"gene":"pv38","side":"b","cat":"Neg","pos":325},{"gene":"pv38","side":"b","cat":"Neg","pos":340},{"gene":"pv38","side":"b","cat":"Neg","pos":352},{"gene":"pv38","side":"b","cat":"Neg","pos":368},{"gene":"pv38","side":"b","cat":"Neg","pos":380},{"gene":"pv38","side":"b","cat":"Neg","pos":395},{"gene":"pv38","side":"b","cat":"Neg","pos":410},{"gene":"pv38","side":"b","cat":"Neg","pos":425},{"gene":"pv38","side":"b","cat":"Neg","pos":440},{"gene":"pv38","side":"b","cat":"Neg","pos":452},{"gene":"pv38","side":"b","cat":"Neg","pos":466},{"gene":"pv38","side":"b","cat":"Neg","pos":480},{"gene":"pv38","side":"b","cat":"Neg","pos":495},{"gene":"pv38","side":"b","cat":"Neg","pos":508},{"gene":"pv38","side":"b","cat":"Neg","pos":520},{"gene":"pv38","side":"b","cat":"Neg","pos":535},{"gene":"pv38","side":"b","cat":"Neg","pos":555},{"gene":"pv38","side":"b","cat":"Neg","pos":575},{"gene":"pv38","side":"b","cat":"Neg","pos":590},{"gene":"pv38","side":"b","cat":"Neg","pos":610},{"gene":"pv38","side":"b","cat":"Neg","pos":625},{"gene":"pv38","side":"b","cat":"Neg","pos":640},{"gene":"pv38","side":"b","cat":"Neg","pos":660},{"gene":"pv38","side":"b","cat":"Neg","pos":675},{"gene":"pv38","side":"b","cat":"Neg","pos":690},{"gene":"pv38","side":"b","cat":"Neg","pos":710},{"gene":"pv38","side":"b","cat":"Neg","pos":730},{"gene":"pv38","side":"b","cat":"Neg","pos":745},{"gene":"pv38","side":"b","cat":"Neg","pos":760},{"gene":"pv38","side":"b","cat":"Neg","pos":780},{"gene":"pv38","side":"b","cat":"Neg","pos":800},{"gene":"pv38","side":"b","cat":"Neg","pos":835},{"gene":"pv38","side":"b","cat":"Neg","pos":860},{"gene":"pv38","side":"b","cat":"Neg","pos":885},{"gene":"pv38","side":"b","cat":"Neg","pos":915},{"gene":"pv38","side":"b","cat":"Neg","pos":950},{"gene":"pv38","side":"b","cat":"Neg","pos":1020},{"gene":"pv38","side":"b","cat":"Neg","pos":1060},{"gene":"pv38","side":"b","cat":"Neg","pos":1100},{"gene":"pv38","side":"b","cat":"Neg","pos":1150},{"gene":"pv38","side":"b","cat":"Neg","pos":1170},
    {"gene":"pv38","side":"b","cat":"Pos","pos":101},{"gene":"pv38","side":"b","cat":"Pos","pos":228},{"gene":"pv38","side":"b","cat":"Pos","pos":824},{"gene":"pv38","side":"b","cat":"Pos","pos":996},{"gene":"pv38","side":"b","cat":"Pos","pos":1122},{"gene":"pv38","side":"b","cat":"Pos","pos":1132},

    {"gene":"pv41","side":"a","cat":"Syn","pos":168},{"gene":"pv41","side":"a","cat":"Pos","pos":262},{"gene":"pv41","side":"a","cat":"NS","pos":265},{"gene":"pv41","side":"a","cat":"NS","pos":803},{"gene":"pv41","side":"a","cat":"Pos","pos":936},{"gene":"pv41","side":"a","cat":"NS","pos":964},{"gene":"pv41","side":"a","cat":"Syn","pos":1053},{"gene":"pv41","side":"a","cat":"NS","pos":1102},{"gene":"pv41","side":"a","cat":"NS","pos":1110},{"gene":"pv41","side":"a","cat":"Pos","pos":1118},{"gene":"pv41","side":"a","cat":"Pos","pos":1130},{"gene":"pv41","side":"a","cat":"NS","pos":1140},{"gene":"pv41","side":"a","cat":"Syn","pos":1155},{"gene":"pv41","side":"a","cat":"Pos","pos":1160},
    {"gene":"pv41","side":"b","cat":"Neg","pos":28},{"gene":"pv41","side":"b","cat":"Neg","pos":35},{"gene":"pv41","side":"b","cat":"Neg","pos":42},{"gene":"pv41","side":"b","cat":"Neg","pos":49},{"gene":"pv41","side":"b","cat":"Neg","pos":56},{"gene":"pv41","side":"b","cat":"Neg","pos":70},{"gene":"pv41","side":"b","cat":"Neg","pos":77},{"gene":"pv41","side":"b","cat":"Neg","pos":84},{"gene":"pv41","side":"b","cat":"Neg","pos":91},{"gene":"pv41","side":"b","cat":"Neg","pos":98},{"gene":"pv41","side":"b","cat":"Neg","pos":105},{"gene":"pv41","side":"b","cat":"Neg","pos":112},{"gene":"pv41","side":"b","cat":"Neg","pos":119},{"gene":"pv41","side":"b","cat":"Neg","pos":126},{"gene":"pv41","side":"b","cat":"Neg","pos":140},{"gene":"pv41","side":"b","cat":"Neg","pos":154},{"gene":"pv41","side":"b","cat":"Neg","pos":168},{"gene":"pv41","side":"b","cat":"Neg","pos":182},{"gene":"pv41","side":"b","cat":"Neg","pos":196},{"gene":"pv41","side":"b","cat":"Neg","pos":210},{"gene":"pv41","side":"b","cat":"Neg","pos":232},{"gene":"pv41","side":"b","cat":"Neg","pos":246},{"gene":"pv41","side":"b","cat":"Neg","pos":274},{"gene":"pv41","side":"b","cat":"Neg","pos":290},{"gene":"pv41","side":"b","cat":"Neg","pos":305},{"gene":"pv41","side":"b","cat":"Neg","pos":323},{"gene":"pv41","side":"b","cat":"Neg","pos":372},{"gene":"pv41","side":"b","cat":"Neg","pos":386},{"gene":"pv41","side":"b","cat":"Neg","pos":400},{"gene":"pv41","side":"b","cat":"Neg","pos":414},{"gene":"pv41","side":"b","cat":"Neg","pos":435},{"gene":"pv41","side":"b","cat":"Neg","pos":449},{"gene":"pv41","side":"b","cat":"Neg","pos":463},{"gene":"pv41","side":"b","cat":"Neg","pos":477},{"gene":"pv41","side":"b","cat":"Neg","pos":491},{"gene":"pv41","side":"b","cat":"Neg","pos":505},{"gene":"pv41","side":"b","cat":"Neg","pos":519},{"gene":"pv41","side":"b","cat":"Neg","pos":568},{"gene":"pv41","side":"b","cat":"Neg","pos":582},{"gene":"pv41","side":"b","cat":"Neg","pos":596},{"gene":"pv41","side":"b","cat":"Neg","pos":625},{"gene":"pv41","side":"b","cat":"Neg","pos":660},{"gene":"pv41","side":"b","cat":"Neg","pos":674},{"gene":"pv41","side":"b","cat":"Neg","pos":688},{"gene":"pv41","side":"b","cat":"Neg","pos":702},{"gene":"pv41","side":"b","cat":"Neg","pos":716},{"gene":"pv41","side":"b","cat":"Neg","pos":744},{"gene":"pv41","side":"b","cat":"Neg","pos":758},{"gene":"pv41","side":"b","cat":"Neg","pos":828},{"gene":"pv41","side":"b","cat":"Neg","pos":842},{"gene":"pv41","side":"b","cat":"Neg","pos":856},{"gene":"pv41","side":"b","cat":"Neg","pos":870},{"gene":"pv41","side":"b","cat":"Neg","pos":884},{"gene":"pv41","side":"b","cat":"Neg","pos":912},{"gene":"pv41","side":"b","cat":"Neg","pos":940},{"gene":"pv41","side":"b","cat":"Neg","pos":954},{"gene":"pv41","side":"b","cat":"Neg","pos":982},{"gene":"pv41","side":"b","cat":"Neg","pos":1010},{"gene":"pv41","side":"b","cat":"Neg","pos":1032},{"gene":"pv41","side":"b","cat":"Neg","pos":1110},{"gene":"pv41","side":"b","cat":"Neg","pos":1130},{"gene":"pv41","side":"b","cat":"Neg","pos":1150},
    {"gene":"pv41","side":"b","cat":"Pos","pos":22},{"gene":"pv41","side":"b","cat":"Pos","pos":225},{"gene":"pv41","side":"b","cat":"Pos","pos":262},{"gene":"pv41","side":"b","cat":"Pos","pos":608},{"gene":"pv41","side":"b","cat":"Pos","pos":800},{"gene":"pv41","side":"b","cat":"Pos","pos":935},{"gene":"pv41","side":"b","cat":"Pos","pos":1120},{"gene":"pv41","side":"b","cat":"Pos","pos":1165}
  ],
  "legend": [
    {"grp":1,"cat":"dNdS","label":"dɴ/dꜱ"},{"grp":1,"cat":"Pcyn","label":"Kɴ/Kꜱ Pcyn"},{"grp":1,"cat":"Pkno","label":"Kɴ/Kꜱ Pkno"},
    {"grp":2,"cat":"s48","label":"s48/45 domain"},{"grp":2,"cat":"GPI","label":"GPI anchor"},{"grp":2,"cat":"SP","label":"Signal peptide"},{"grp":2,"cat":"Rep","label":"Repeat region"},
    {"grp":3,"cat":"NS","label":"Non-synonymous substitution"},{"grp":3,"cat":"Syn","label":"Synonymous substitution"},{"grp":3,"cat":"Pos","label":"Positively selected site"},{"grp":3,"cat":"Neg","label":"Negatively selected site"}
  ]
},
"hconcat": [
 {"spacing": 16, "vconcat": [
  {"width": 283, "height": 162,
   "layer": [
    {"data": {"values": [{"level": 1}]}, "mark": {"type": "rule", "color": "#cfcfcf", "strokeWidth": 1},
     "encoding": {"x": {"datum": 0, "type": "quantitative", "title": null}, "x2": {"datum": 1200}, "y": {"field": "level", "type": "quantitative", "title": null}}},
    {"data": {"values": [{"lo": 0, "hi": 1.6}]}, "mark": {"type": "rule", "color": "#cfcfcf", "strokeWidth": 1},
     "encoding": {"x": {"datum": 0, "type": "quantitative", "title": null}, "y": {"field": "lo", "type": "quantitative", "title": null}, "y2": {"field": "hi"}}},
    {"data": {"name": "borders"}, "transform": [{"filter": "datum.gene === 'pv12'"}], "mark": {"type": "rule", "color": "#8a8a8a", "strokeDash": [3, 2], "strokeWidth": 1},
     "encoding": {"x": {"field": "pos", "type": "quantitative", "title": null}, "y": {"datum": 1.65, "type": "quantitative", "title": null}, "y2": {"datum": -0.329}}},
    {"data": {"name": "lines"}, "transform": [{"filter": "datum.gene === 'pv12'"}], "mark": {"type": "line", "strokeWidth": 1.6, "clip": true},
     "encoding": {
      "x": {"field": "pos", "type": "quantitative", "title": null, "scale": {"domain": [0, 1200], "nice": false, "zero": false}, "axis": {"values": [0,200,400,600,800,1000,1200], "tickCount": 20, "format": "d", "offset": -45, "labelFlush": false, "labelOverlap": false}},
      "y": {"field": "w", "type": "quantitative", "title": null, "scale": {"domain": [-0.616, 1.6], "nice": false, "zero": false}, "axis": {"values": [0,0.2,0.4,0.6,0.8,1,1.2,1.4,1.6], "tickCount": 20, "domain": false, "labelOverlap": false, "labelExpr": "replace(format(datum.value, '.1~f'), '.', ',')"}},
      "color": {"field": "cat", "type": "nominal", "legend": null, "scale": {"domain": ["dNdS","Pcyn","Pkno","s48","GPI","SP","Rep","Oth","NS","Syn","Pos","Neg"], "range": ["#cc2229","#7e57b0","#13692f","#14a39a","#3aaa35","#c9a06a","#000000","#d9d9d9","#e8363a","#f39a2b","#ee2a8a","#b3b3b3"]}},
      "detail": {"field": "seg", "type": "nominal"}}},
    {"data": {"name": "domains"}, "transform": [{"filter": "datum.gene === 'pv12'"}], "mark": {"type": "rect"},
     "encoding": {"x": {"field": "start", "type": "quantitative", "title": null}, "x2": {"field": "end"}, "y": {"datum": -0.329, "type": "quantitative", "title": null}, "y2": {"datum": -0.493},
      "color": {"field": "cat", "type": "nominal", "legend": null, "scale": {"domain": ["dNdS","Pcyn","Pkno","s48","GPI","SP","Rep","Oth","NS","Syn","Pos","Neg"], "range": ["#cc2229","#7e57b0","#13692f","#14a39a","#3aaa35","#c9a06a","#000000","#d9d9d9","#e8363a","#f39a2b","#ee2a8a","#b3b3b3"]}}}},
    {"data": {"name": "sites"}, "transform": [{"filter": "datum.gene === 'pv12' && datum.side === 'a'"}], "mark": {"type": "rule", "strokeWidth": 1.2},
     "encoding": {"x": {"field": "pos", "type": "quantitative", "title": null}, "y": {"datum": -0.233, "type": "quantitative", "title": null}, "y2": {"datum": -0.329},
      "color": {"field": "cat", "type": "nominal", "legend": null, "scale": {"domain": ["dNdS","Pcyn","Pkno","s48","GPI","SP","Rep","Oth","NS","Syn","Pos","Neg"], "range": ["#cc2229","#7e57b0","#13692f","#14a39a","#3aaa35","#c9a06a","#000000","#d9d9d9","#e8363a","#f39a2b","#ee2a8a","#b3b3b3"]}}}},
    {"data": {"name": "sites"}, "transform": [{"filter": "datum.gene === 'pv12' && datum.side === 'b'"}], "mark": {"type": "rule", "strokeWidth": 1},
     "encoding": {"x": {"field": "pos", "type": "quantitative", "title": null}, "y": {"datum": -0.507, "type": "quantitative", "title": null}, "y2": {"datum": -0.589},
      "color": {"field": "cat", "type": "nominal", "legend": null, "scale": {"domain": ["dNdS","Pcyn","Pkno","s48","GPI","SP","Rep","Oth","NS","Syn","Pos","Neg"], "range": ["#cc2229","#7e57b0","#13692f","#14a39a","#3aaa35","#c9a06a","#000000","#d9d9d9","#e8363a","#f39a2b","#ee2a8a","#b3b3b3"]}}}},
    {"data": {"values": [{"name": "pv12"}]}, "mark": {"type": "text", "align": "right", "baseline": "middle", "font": "Liberation Sans", "fontWeight": "bold", "fontStyle": "italic", "fontSize": 12.5, "color": "#1a1a1a"},
     "encoding": {"x": {"datum": -30, "type": "quantitative", "title": null}, "y": {"datum": -0.411, "type": "quantitative", "title": null}, "text": {"field": "name", "type": "nominal"}}}
   ]},
  {"width": 283, "height": 161.5,
   "layer": [
    {"data": {"values": [{"level": 1}]}, "mark": {"type": "rule", "color": "#cfcfcf", "strokeWidth": 1},
     "encoding": {"x": {"datum": 0, "type": "quantitative", "title": null}, "x2": {"datum": 1200}, "y": {"field": "level", "type": "quantitative", "title": null}}},
    {"data": {"values": [{"lo": 0, "hi": 1.6}]}, "mark": {"type": "rule", "color": "#cfcfcf", "strokeWidth": 1},
     "encoding": {"x": {"datum": 0, "type": "quantitative", "title": null}, "y": {"field": "lo", "type": "quantitative", "title": null}, "y2": {"field": "hi"}}},
    {"data": {"name": "borders"}, "transform": [{"filter": "datum.gene === 'pv38'"}], "mark": {"type": "rule", "color": "#8a8a8a", "strokeDash": [3, 2], "strokeWidth": 1},
     "encoding": {"x": {"field": "pos", "type": "quantitative", "title": null}, "y": {"datum": 1.6, "type": "quantitative", "title": null}, "y2": {"datum": -0.316}}},
    {"data": {"name": "lines"}, "transform": [{"filter": "datum.gene === 'pv38'"}], "mark": {"type": "line", "strokeWidth": 1.6, "clip": true},
     "encoding": {
      "x": {"field": "pos", "type": "quantitative", "title": null, "scale": {"domain": [0, 1200], "nice": false, "zero": false}, "axis": {"values": [0,200,400,600,800,1000,1200], "tickCount": 20, "format": "d", "offset": -41.8, "labelFlush": false, "labelOverlap": false}},
      "y": {"field": "w", "type": "quantitative", "title": null, "scale": {"domain": [-0.559, 1.6], "nice": false, "zero": false}, "axis": {"values": [0,0.2,0.4,0.6,0.8,1,1.2,1.4,1.6], "tickCount": 20, "domain": false, "labelOverlap": false, "labelExpr": "replace(format(datum.value, '.1~f'), '.', ',')"}},
      "color": {"field": "cat", "type": "nominal", "legend": null, "scale": {"domain": ["dNdS","Pcyn","Pkno","s48","GPI","SP","Rep","Oth","NS","Syn","Pos","Neg"], "range": ["#cc2229","#7e57b0","#13692f","#14a39a","#3aaa35","#c9a06a","#000000","#d9d9d9","#e8363a","#f39a2b","#ee2a8a","#b3b3b3"]}},
      "detail": {"field": "seg", "type": "nominal"}}},
    {"data": {"name": "domains"}, "transform": [{"filter": "datum.gene === 'pv38'"}], "mark": {"type": "rect"},
     "encoding": {"x": {"field": "start", "type": "quantitative", "title": null}, "x2": {"field": "end"}, "y": {"datum": -0.316, "type": "quantitative", "title": null}, "y2": {"datum": -0.486},
      "color": {"field": "cat", "type": "nominal", "legend": null, "scale": {"domain": ["dNdS","Pcyn","Pkno","s48","GPI","SP","Rep","Oth","NS","Syn","Pos","Neg"], "range": ["#cc2229","#7e57b0","#13692f","#14a39a","#3aaa35","#c9a06a","#000000","#d9d9d9","#e8363a","#f39a2b","#ee2a8a","#b3b3b3"]}}}},
    {"data": {"name": "sites"}, "transform": [{"filter": "datum.gene === 'pv38' && datum.side === 'a'"}], "mark": {"type": "rule", "strokeWidth": 1.2},
     "encoding": {"x": {"field": "pos", "type": "quantitative", "title": null}, "y": {"datum": -0.236, "type": "quantitative", "title": null}, "y2": {"datum": -0.316},
      "color": {"field": "cat", "type": "nominal", "legend": null, "scale": {"domain": ["dNdS","Pcyn","Pkno","s48","GPI","SP","Rep","Oth","NS","Syn","Pos","Neg"], "range": ["#cc2229","#7e57b0","#13692f","#14a39a","#3aaa35","#c9a06a","#000000","#d9d9d9","#e8363a","#f39a2b","#ee2a8a","#b3b3b3"]}}}},
    {"data": {"name": "sites"}, "transform": [{"filter": "datum.gene === 'pv38' && datum.side === 'b'"}], "mark": {"type": "rule", "strokeWidth": 1},
     "encoding": {"x": {"field": "pos", "type": "quantitative", "title": null}, "y": {"datum": -0.486, "type": "quantitative", "title": null}, "y2": {"datum": -0.557},
      "color": {"field": "cat", "type": "nominal", "legend": null, "scale": {"domain": ["dNdS","Pcyn","Pkno","s48","GPI","SP","Rep","Oth","NS","Syn","Pos","Neg"], "range": ["#cc2229","#7e57b0","#13692f","#14a39a","#3aaa35","#c9a06a","#000000","#d9d9d9","#e8363a","#f39a2b","#ee2a8a","#b3b3b3"]}}}},
    {"data": {"values": [{"name": "pv38"}]}, "mark": {"type": "text", "align": "right", "baseline": "middle", "font": "Liberation Sans", "fontWeight": "bold", "fontStyle": "italic", "fontSize": 12.5, "color": "#1a1a1a"},
     "encoding": {"x": {"datum": -30, "type": "quantitative", "title": null}, "y": {"datum": -0.401, "type": "quantitative", "title": null}, "text": {"field": "name", "type": "nominal"}}},
    {"data": {"values": [{"name": "ω"}]}, "mark": {"type": "text", "align": "center", "baseline": "middle", "font": "Liberation Serif", "fontSize": 28, "color": "#1a1a1a"},
     "encoding": {"x": {"datum": -285, "type": "quantitative", "title": null}, "y": {"datum": 0.868, "type": "quantitative", "title": null}, "text": {"field": "name", "type": "nominal"}}}
   ]},
  {"width": 283, "height": 152.7,
   "layer": [
    {"data": {"values": [{"level": 1}]}, "mark": {"type": "rule", "color": "#cfcfcf", "strokeWidth": 1},
     "encoding": {"x": {"datum": 0, "type": "quantitative", "title": null}, "x2": {"datum": 1200}, "y": {"field": "level", "type": "quantitative", "title": null}}},
    {"data": {"values": [{"lo": 0, "hi": 1.6}]}, "mark": {"type": "rule", "color": "#cfcfcf", "strokeWidth": 1},
     "encoding": {"x": {"datum": 0, "type": "quantitative", "title": null}, "y": {"field": "lo", "type": "quantitative", "title": null}, "y2": {"field": "hi"}}},
    {"data": {"name": "borders"}, "transform": [{"filter": "datum.gene === 'pv41'"}], "mark": {"type": "rule", "color": "#8a8a8a", "strokeDash": [3, 2], "strokeWidth": 1},
     "encoding": {"x": {"field": "pos", "type": "quantitative", "title": null}, "y": {"datum": 1.765, "type": "quantitative", "title": null}, "y2": {"datum": -0.354}}},
    {"data": {"name": "lines"}, "transform": [{"filter": "datum.gene === 'pv41'"}], "mark": {"type": "line", "strokeWidth": 1.6, "clip": true},
     "encoding": {
      "x": {"field": "pos", "type": "quantitative", "title": null, "scale": {"domain": [0, 1200], "nice": false, "zero": false}, "axis": {"values": [0,200,400,600,800,1000,1200], "tickCount": 20, "format": "d", "offset": -43, "labelFlush": false, "labelOverlap": false}},
      "y": {"field": "w", "type": "quantitative", "title": null, "scale": {"domain": [-0.627, 1.6], "nice": false, "zero": false}, "axis": {"values": [0,0.2,0.4,0.6,0.8,1,1.2,1.4,1.6], "tickCount": 20, "domain": false, "labelOverlap": false, "labelExpr": "replace(format(datum.value, '.1~f'), '.', ',')"}},
      "color": {"field": "cat", "type": "nominal", "legend": null, "scale": {"domain": ["dNdS","Pcyn","Pkno","s48","GPI","SP","Rep","Oth","NS","Syn","Pos","Neg"], "range": ["#cc2229","#7e57b0","#13692f","#14a39a","#3aaa35","#c9a06a","#000000","#d9d9d9","#e8363a","#f39a2b","#ee2a8a","#b3b3b3"]}},
      "detail": {"field": "seg", "type": "nominal"}}},
    {"data": {"name": "domains"}, "transform": [{"filter": "datum.gene === 'pv41'"}], "mark": {"type": "rect"},
     "encoding": {"x": {"field": "start", "type": "quantitative", "title": null}, "x2": {"field": "end"}, "y": {"datum": -0.354, "type": "quantitative", "title": null}, "y2": {"datum": -0.535},
      "color": {"field": "cat", "type": "nominal", "legend": null, "scale": {"domain": ["dNdS","Pcyn","Pkno","s48","GPI","SP","Rep","Oth","NS","Syn","Pos","Neg"], "range": ["#cc2229","#7e57b0","#13692f","#14a39a","#3aaa35","#c9a06a","#000000","#d9d9d9","#e8363a","#f39a2b","#ee2a8a","#b3b3b3"]}}}},
    {"data": {"name": "sites"}, "transform": [{"filter": "datum.gene === 'pv41' && datum.side === 'a'"}], "mark": {"type": "rule", "strokeWidth": 1.2},
     "encoding": {"x": {"field": "pos", "type": "quantitative", "title": null}, "y": {"datum": -0.2, "type": "quantitative", "title": null}, "y2": {"datum": -0.354},
      "color": {"field": "cat", "type": "nominal", "legend": null, "scale": {"domain": ["dNdS","Pcyn","Pkno","s48","GPI","SP","Rep","Oth","NS","Syn","Pos","Neg"], "range": ["#cc2229","#7e57b0","#13692f","#14a39a","#3aaa35","#c9a06a","#000000","#d9d9d9","#e8363a","#f39a2b","#ee2a8a","#b3b3b3"]}}}},
    {"data": {"name": "sites"}, "transform": [{"filter": "datum.gene === 'pv41' && datum.side === 'b'"}], "mark": {"type": "rule", "strokeWidth": 1},
     "encoding": {"x": {"field": "pos", "type": "quantitative", "title": null}, "y": {"datum": -0.535, "type": "quantitative", "title": null}, "y2": {"datum": -0.623},
      "color": {"field": "cat", "type": "nominal", "legend": null, "scale": {"domain": ["dNdS","Pcyn","Pkno","s48","GPI","SP","Rep","Oth","NS","Syn","Pos","Neg"], "range": ["#cc2229","#7e57b0","#13692f","#14a39a","#3aaa35","#c9a06a","#000000","#d9d9d9","#e8363a","#f39a2b","#ee2a8a","#b3b3b3"]}}}},
    {"data": {"values": [{"name": "pv41"}]}, "mark": {"type": "text", "align": "right", "baseline": "middle", "font": "Liberation Sans", "fontWeight": "bold", "fontStyle": "italic", "fontSize": 12.5, "color": "#1a1a1a"},
     "encoding": {"x": {"datum": -30, "type": "quantitative", "title": null}, "y": {"datum": -0.445, "type": "quantitative", "title": null}, "text": {"field": "name", "type": "nominal"}}}
   ]}
 ]},
 {"spacing": 0, "vconcat": [
  {"width": 212, "height": 183, "data": {"name": "legend"}, "transform": [{"filter": "datum.grp === 1"}],
   "encoding": {"y": {"field": "label", "type": "nominal", "title": null, "axis": null, "scale": {"type": "point", "domain": ["~a","~b","~c","dɴ/dꜱ","Kɴ/Kꜱ Pcyn","Kɴ/Kꜱ Pkno"], "padding": 0.5, "align": 0.213}}},
   "layer": [
    {"mark": {"type": "rule", "strokeWidth": 4.5, "strokeCap": "round"},
     "encoding": {"x": {"datum": 2, "type": "quantitative", "axis": null, "scale": {"domain": [0, 212], "nice": false, "zero": false}}, "x2": {"datum": 31},
      "color": {"field": "cat", "type": "nominal", "legend": null, "scale": {"domain": ["dNdS","Pcyn","Pkno","s48","GPI","SP","Rep","Oth","NS","Syn","Pos","Neg"], "range": ["#cc2229","#7e57b0","#13692f","#14a39a","#3aaa35","#c9a06a","#000000","#d9d9d9","#e8363a","#f39a2b","#ee2a8a","#b3b3b3"]}}}},
    {"mark": {"type": "text", "align": "left", "baseline": "middle", "fontSize": 13, "color": "#262626"},
     "encoding": {"x": {"datum": 35, "type": "quantitative"}, "text": {"field": "label", "type": "nominal"}}}
   ]},
  {"width": 212, "height": 120, "data": {"name": "legend"}, "transform": [{"filter": "datum.grp === 2"}],
   "encoding": {"y": {"field": "label", "type": "nominal", "title": null, "axis": null, "scale": {"type": "point", "domain": ["s48/45 domain","GPI anchor","Signal peptide","Repeat region"], "padding": 0.25, "align": 0.468}}},
   "layer": [
    {"mark": {"type": "point", "filled": true, "opacity": 1, "shape": "M-1,-0.56L1,-0.56L1,0.56L-1,0.56Z", "size": 256},
     "encoding": {"x": {"datum": 16, "type": "quantitative", "axis": null, "scale": {"domain": [0, 212], "nice": false, "zero": false}},
      "color": {"field": "cat", "type": "nominal", "legend": null, "scale": {"domain": ["dNdS","Pcyn","Pkno","s48","GPI","SP","Rep","Oth","NS","Syn","Pos","Neg"], "range": ["#cc2229","#7e57b0","#13692f","#14a39a","#3aaa35","#c9a06a","#000000","#d9d9d9","#e8363a","#f39a2b","#ee2a8a","#b3b3b3"]}}}},
    {"mark": {"type": "text", "align": "left", "baseline": "middle", "fontSize": 13, "color": "#262626"},
     "encoding": {"x": {"datum": 35, "type": "quantitative"}, "text": {"field": "label", "type": "nominal"}}}
   ]},
  {"width": 212, "height": 210, "data": {"name": "legend"}, "transform": [{"filter": "datum.grp === 3"}],
   "encoding": {"y": {"field": "label", "type": "nominal", "title": null, "axis": null, "scale": {"type": "point", "domain": ["Non-synonymous substitution","Synonymous substitution","Positively selected site","Negatively selected site"], "padding": 1, "align": 0.31}}},
   "layer": [
    {"mark": {"type": "tick", "orient": "vertical", "thickness": 3, "size": 17},
     "encoding": {"x": {"datum": 14, "type": "quantitative", "axis": null, "scale": {"domain": [0, 212], "nice": false, "zero": false}},
      "color": {"field": "cat", "type": "nominal", "legend": null, "scale": {"domain": ["dNdS","Pcyn","Pkno","s48","GPI","SP","Rep","Oth","NS","Syn","Pos","Neg"], "range": ["#cc2229","#7e57b0","#13692f","#14a39a","#3aaa35","#c9a06a","#000000","#d9d9d9","#e8363a","#f39a2b","#ee2a8a","#b3b3b3"]}}}},
    {"mark": {"type": "text", "align": "left", "baseline": "middle", "fontSize": 13, "color": "#262626"},
     "encoding": {"x": {"datum": 34, "type": "quantitative"}, "text": {"field": "label", "type": "nominal"}}}
   ]}
 ]}
]
}
